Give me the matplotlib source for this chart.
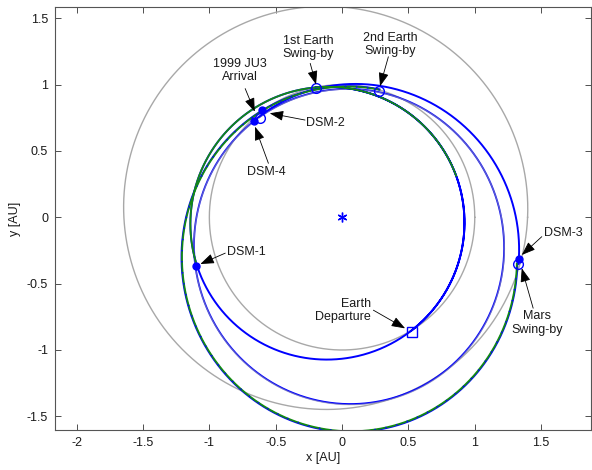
import numpy as np
import matplotlib
matplotlib.use("Agg")
import matplotlib.pyplot as plt

plt.rcParams['font.family'] = ['Liberation Sans', 'DejaVu Sans']

# ---------------- data ----------------
# Reference orbits (gray): conic elements, semi-latus rectum p [AU], eccentricity, perihelion longitude [deg]
ref_names = ["Earth", "Mars", "1999 JU3"]
ref_p = [1.0, 1.511, 1.146]
ref_e = [0.0, 0.0934, 0.193]
ref_w = [0.0, -30.0, 103.5]

# Trajectory arcs: elements and true-longitude span [deg]
arc_names = ["EGA2-Mars", "Departure-DSM1-EGA1", "EGA1-EGA2 (green)",
             "DSM4-Arrival", "MGA-DSM4"]
arc_p = [1.222, 1.02, 1.02, 1.146, 1.181]
arc_e = [0.245, 0.115, 0.115, 0.190, 0.205]
arc_w = [100.0, 22.0, 22.0, 103.5, 118.7]
arc_from = [73.7, -58.8, 20.0, 132.3, -14.8]
arc_to = [345.2, 461.4, 198.0, 489.6, 132.3]

# Events
ev_names = ["Earth Departure", "DSM-1", "1st Earth Swing-by", "DSM-2",
            "2nd Earth Swing-by", "Mars Swing-by", "DSM-3", "DSM-4", "1999 JU3 Arrival"]
ev_x = [0.525, -1.103, -0.196, -0.605, 0.279, 1.329, 1.334, -0.663, -0.618]
ev_y = [-0.867, -0.364, 0.971, 0.809, 0.952, -0.354, -0.317, 0.728, 0.746]

x_ticks = [-2, -1.5, -1, -0.5, 0, 0.5, 1, 1.5]
y_ticks = [-1.5, -1, -0.5, 0, 0.5, 1, 1.5]

# ---------------- plot ----------------
BLUE = '#0000ff'
GREEN = '#138a13'
GRAY = '#a8a8a8'

fig = plt.figure(figsize=(5.92, 4.70), dpi=100)
ax = fig.add_axes([55 / 592, 1 - 430 / 470, 535.5 / 592, 423 / 470])


def conic(p, e, w, t0, t1, n=1500):
    t = np.radians(np.linspace(t0, t1, n))
    r = p / (1 + e * np.cos(t - np.radians(w)))
    return r * np.cos(t), r * np.sin(t)


# gray reference orbits
for k, (p, e, w) in enumerate(zip(ref_p, ref_e, ref_w)):
    x, y = conic(p, e, w, 0, 360)
    if k == 2:
        ax.plot(x, y, color=GRAY, lw=0.9, alpha=0.55, zorder=2.8)
    else:
        ax.plot(x, y, color=GRAY, lw=1.0, zorder=2)

# DSM-4 -> arrival (follows asteroid orbit)
x, y = conic(arc_p[3], arc_e[3], arc_w[3], arc_from[3], arc_to[3])
ax.plot(x, y, color=BLUE, lw=1.3, zorder=2.5)

# Departure -> DSM-1 -> 1st Earth swing-by (blue)
x, y = conic(arc_p[1], arc_e[1], arc_w[1], arc_from[1], arc_to[1])
ax.plot(x, y, color=BLUE, lw=1.4, zorder=3)

# Mars swing-by -> DSM-4
x, y = conic(arc_p[4], arc_e[4], arc_w[4], arc_from[4], arc_to[4])
ax.plot(x, y, color=BLUE, lw=1.4, zorder=3.5)

# EGA2 -> Mars: blue underneath, green on top, sparse blue specks
x, y = conic(arc_p[0] + 0.004, arc_e[0], arc_w[0], arc_from[0], arc_to[0])
ax.plot(x, y, color=BLUE, lw=1.3, zorder=3.6)
x, y = conic(arc_p[0], arc_e[0], arc_w[0], arc_from[0], arc_to[0])
ax.plot(x, y, color=GREEN, lw=1.3, zorder=4)
ax.plot(x, y, color=BLUE, lw=1.0, ls=(0, (1, 7)), zorder=4.1)

# green leg overlapping
x, y = conic(arc_p[2], arc_e[2], arc_w[2], arc_from[2], arc_to[2])
ax.plot(x, y, color=GREEN, lw=1.3, zorder=4.2)

# markers
ms_open = dict(ls='none', marker='o', mfc='none', mec=BLUE, ms=7, mew=1.0, zorder=6)
ms_dot = dict(ls='none', marker='o', mfc=BLUE, mec=BLUE, ms=5, zorder=6)
for i in [2, 4, 5, 8]:
    ax.plot(ev_x[i], ev_y[i], **ms_open)
for i in [1, 3, 6, 7]:
    ax.plot(ev_x[i], ev_y[i], **ms_dot)
ax.plot(ev_x[0], ev_y[0], ls='none', marker='s', mfc='none', mec=BLUE, ms=7, mew=1.0, zorder=6)
ax.plot(0, 0, ls='none', marker=(6, 2, 0), color=BLUE, mec=BLUE, ms=7, mew=1.0, zorder=6)

# annotations
arrow = dict(arrowstyle='-|>,head_length=0.6,head_width=0.22', color='black', lw=0.6,
             shrinkA=0, shrinkB=0, mutation_scale=14)
fs = 9
ann = [
    # label, text xy, ha, arrow tail, arrow tip
    ("1999 JU3\nArrival", (-0.77, 1.106), 'center', (-0.73, 0.97), ev_x[8] - 0.04, ev_y[8] + 0.05),
    ("1st Earth\nSwing-by", (-0.257, 1.28), 'center', (-0.24, 1.16), ev_x[2], ev_y[2] + 0.03),
    ("2nd Earth\nSwing-by", (0.362, 1.30), 'center', (0.349, 1.21), ev_x[4] + 0.007, ev_y[4] + 0.035),
    ("DSM-2", (-0.271, 0.714), 'left', (-0.279, 0.733), ev_x[3] + 0.06, ev_y[3] - 0.025),
    ("DSM-4", (-0.573, 0.338), 'center', (-0.555, 0.407), ev_x[7] + 0.007, ev_y[7] - 0.045),
    ("DSM-1", (-0.869, -0.265), 'left', (-0.88, -0.27), ev_x[1] + 0.035, ev_y[1] + 0.012),
    ("Earth\nDeparture", (0.219, -0.704), 'right', (0.236, -0.70), ev_x[0] - 0.05, ev_y[0] + 0.03),
    ("DSM-3", (1.518, -0.115), 'left', (1.505, -0.146), ev_x[6] + 0.02, ev_y[6] + 0.033),
    ("Mars\nSwing-by", (1.47, -0.797), 'center', (1.44, -0.685), ev_x[5] + 0.025, ev_y[5] - 0.03),
]
for lab, txy, ha, tail, tx, ty in ann:
    ax.text(txy[0], txy[1], lab, ha=ha, va='center', fontsize=fs, color='#1a1a1a',
            multialignment=ha if ha != 'center' else 'center', linespacing=1.15, zorder=7)
    ax.annotate("", xy=(tx, ty), xytext=tail, arrowprops=arrow, zorder=7)

# axes
ax.set_xlim(-2.163, 1.872)
ax.set_ylim(-1.603, 1.585)
ax.set_xticks(x_ticks)
ax.set_yticks(y_ticks)
ax.set_xticklabels([f"{v:g}" for v in x_ticks])
ax.set_yticklabels([f"{v:g}" for v in y_ticks])
ax.tick_params(direction='in', length=4, width=0.6, top=True, right=True,
               labelsize=9, colors='#333333', labelcolor='#1a1a1a', pad=5)
for s in ax.spines.values():
    s.set_color('#555555')
    s.set_linewidth(0.8)
ax.set_xlabel("x [AU]", fontsize=9, labelpad=2, color='#1a1a1a')
ax.set_ylabel("y [AU]", fontsize=9, labelpad=4, color='#1a1a1a')

fig.savefig("out.png", dpi=100)
